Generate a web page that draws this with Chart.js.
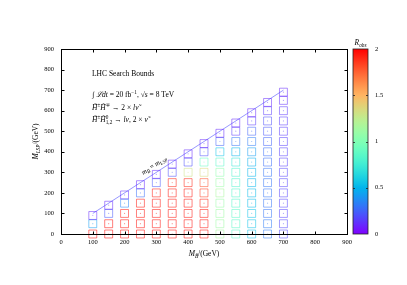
<!DOCTYPE html>
<html lang="en">
<head>
<meta charset="utf-8">
<title>LHC Search Bounds</title>
<script src="https://cdn.jsdelivr.net/npm/chart.js"></script>
<style>
  html, body { margin: 0; padding: 0; background: #fff; }
</style>
</head>
<body>
<canvas id="boundsChart" width="407" height="285"></canvas>
<script>
// bino mass of each scanned column (GeV)
const binoMass = [100, 150, 200, 250, 300, 350, 400, 450, 500, 550, 600, 650, 700];
// LSP masses scanned in each column (GeV)
const lspMass = [
  [0, 50, 90],
  [0, 50, 100, 140],
  [0, 50, 100, 150, 190],
  [0, 50, 100, 150, 200, 240],
  [0, 50, 100, 150, 200, 250, 290],
  [0, 50, 100, 150, 200, 250, 300, 340],
  [0, 50, 100, 150, 200, 250, 300, 350, 390],
  [0, 50, 100, 150, 200, 250, 300, 350, 400, 440],
  [0, 50, 100, 150, 200, 250, 300, 350, 400, 450, 490],
  [0, 50, 100, 150, 200, 250, 300, 350, 400, 450, 500, 540],
  [0, 50, 100, 150, 200, 250, 300, 350, 400, 450, 500, 550, 590],
  [0, 50, 100, 150, 200, 250, 300, 350, 400, 450, 500, 550, 600, 640],
  [0, 50, 100, 150, 200, 250, 300, 350, 400, 450, 500, 550, 600, 650, 690]
];
const rObs = [
  [1.98, 0.42, 0.1],
  [1.98, 1.97, 0.22, 0.1],
  [1.98, 1.97, 1.95, 0.35, 0.12],
  [1.98, 1.97, 1.96, 1.95, 0.28, 0.1],
  [1.98, 1.97, 1.96, 1.96, 1.94, 0.22, 0.1],
  [1.98, 1.97, 1.96, 1.96, 1.95, 1.93, 0.2, 0.1],
  [1.98, 1.97, 1.96, 1.96, 1.95, 1.92, 1.3, 0.2, 0.1],
  [1.97, 1.96, 1.95, 1.93, 1.85, 1.8, 1.35, 0.9, 0.2, 0.1],
  [1.15, 1.12, 1.12, 1.1, 1.15, 1.1, 1.05, 0.85, 0.55, 0.25, 0.1],
  [0.85, 0.85, 0.85, 0.82, 0.82, 0.8, 0.8, 0.72, 0.5, 0.3, 0.15, 0.1],
  [0.55, 0.55, 0.55, 0.52, 0.52, 0.5, 0.5, 0.48, 0.42, 0.32, 0.25, 0.15, 0.1],
  [0.32, 0.32, 0.3, 0.3, 0.3, 0.3, 0.3, 0.28, 0.28, 0.25, 0.22, 0.2, 0.15, 0.1],
  [0.18, 0.18, 0.17, 0.17, 0.17, 0.17, 0.17, 0.16, 0.16, 0.16, 0.15, 0.15, 0.14, 0.12, 0.1]
];
// m_B = m_LSP line
const diagX = [100, 700];
const diagY = [100, 700];
const rTicks = [0, 0.5, 1, 1.5, 2];

const SERIF = "'Liberation Serif', 'DejaVu Serif', serif";
Chart.defaults.font.family = SERIF;
Chart.defaults.font.size = 6.5;
Chart.defaults.color = '#000';

// gnuplot-like rainbow palette, t in [0,1]
function rainbow(t) {
  const r = Math.abs(2 * t - 0.5);
  const g = Math.sin(Math.PI * t);
  const b = Math.cos(Math.PI * t / 2);
  return [r, g, b].map(v => Math.round(Math.max(0, Math.min(1, v)) * 255));
}

const pts = [], edge = [], dot = [];
binoMass.forEach((mb, i) => {
  lspMass[i].forEach((ml, j) => {
    const c = rainbow(rObs[i][j] / 2).join(',');
    pts.push({ x: mb, y: ml });
    edge.push('rgba(' + c + ',0.52)');
    dot.push('rgba(' + c + ',0.45)');
  });
});

// draw a run of text pieces; flags: i italic, _ sub, ^ sup, k keep x
function rich(ctx, parts, x, y, size, align) {
  const fnt = (f, s) => (f.includes('i') ? 'italic ' : '') + s + 'px ' + SERIF;
  let w = 0;
  parts.forEach(([t, f]) => {
    const s = (f.includes('_') || f.includes('^')) ? size * 0.7 : size;
    ctx.font = fnt(f, s);
    if (!f.includes('k')) w += ctx.measureText(t).width;
  });
  let cx = align === 'center' ? x - w / 2 : x;
  ctx.textAlign = 'left';
  ctx.textBaseline = 'alphabetic';
  parts.forEach(([t, f]) => {
    const small = f.includes('_') || f.includes('^');
    const s = small ? size * 0.7 : size;
    ctx.font = fnt(f, s);
    let dy = 0;
    if (f.includes('_')) dy = size * 0.25;
    if (f.includes('^')) dy = -size * 0.38;
    ctx.fillText(t, cx, y + dy);
    if (!f.includes('k')) cx += ctx.measureText(t).width;
  });
}

const decor = {
  id: 'decor',
  afterDraw(chart) {
    const { ctx, chartArea: a, scales } = chart;
    const xs = scales.x, ys = scales.y, cb = scales.cb;
    ctx.save();
    // frame with inward ticks
    ctx.strokeStyle = '#000';
    ctx.lineWidth = 1;
    const L = Math.round(a.left) + 0.5, R = Math.round(a.right) + 0.5;
    const T = Math.round(a.top) + 0.5, B = Math.round(a.bottom) + 0.5;
    ctx.strokeRect(L, T, R - L, B - T);
    ctx.beginPath();
    xs.ticks.forEach(t => {
      if (t.value <= xs.min || t.value >= xs.max) return;
      const px = Math.round(xs.getPixelForValue(t.value)) + 0.5;
      ctx.moveTo(px, B); ctx.lineTo(px, B - 3);
      ctx.moveTo(px, T); ctx.lineTo(px, T + 3);
    });
    ys.ticks.forEach(t => {
      if (t.value <= ys.min || t.value >= ys.max) return;
      const py = Math.round(ys.getPixelForValue(t.value)) + 0.5;
      ctx.moveTo(L, py); ctx.lineTo(L + 3, py);
      ctx.moveTo(R, py); ctx.lineTo(R - 3, py);
    });
    ctx.stroke();

    // colour bar
    const bx0 = a.right + 6, bx1 = a.right + 21;
    const by0 = cb.getPixelForValue(cb.max), by1 = cb.getPixelForValue(cb.min);
    const grad = ctx.createLinearGradient(0, by1, 0, by0);
    for (let k = 0; k <= 40; k++) {
      const t = k / 40;
      grad.addColorStop(t, 'rgb(' + rainbow(t).join(',') + ')');
    }
    ctx.fillStyle = grad;
    ctx.fillRect(bx0, by0, bx1 - bx0, by1 - by0);
    ctx.lineWidth = 0.8;
    ctx.strokeStyle = '#222';
    ctx.strokeRect(bx0, by0, bx1 - bx0, by1 - by0);
    ctx.beginPath();
    rTicks.forEach(v => {
      if (v <= cb.min || v >= cb.max) return;
      const py = Math.round(cb.getPixelForValue(v)) + 0.5;
      ctx.moveTo(bx0, py); ctx.lineTo(bx0 + 2, py);
      ctx.moveTo(bx1, py); ctx.lineTo(bx1 - 2, py);
    });
    ctx.stroke();

    // texts
    ctx.fillStyle = '#000';
    rich(ctx, [['R', 'i'], ['obs', '_i']], (bx0 + bx1) / 2, by0 - 4, 7.5, 'center');
    rich(ctx, [['M', 'i'], ['B\u0303', '_i'], ['/(GeV)', '']], (a.left + a.right) / 2, a.bottom + 22, 7.5, 'center');
    ctx.save();
    ctx.translate(a.left - 23, (a.top + a.bottom) / 2);
    ctx.rotate(-Math.PI / 2);
    rich(ctx, [['M', 'i'], ['LSP', '_i'], ['/(GeV)', '']], 0, 0, 7.5, 'center');
    ctx.restore();

    const tx = a.left + 31;
    rich(ctx, [['LHC Search Bounds', '']], tx, a.top + 27, 7.5);
    rich(ctx, [['\u222B ', ''], ['\u2112dt', 'i'], [' = 20 fb', ''], ['\u22121', '^'], [', \u221A', ''], ['s', 'i'], [' = 8 TeV', '']], tx, a.top + 48, 7.5);
    rich(ctx, [['H\u0303', 'i'], ['\u00B1', '^'], ['H\u0303', 'i'], ['\u2213', '^'], [' \u2192 2 \u00D7 ', ''], ['l\u03BD\u0303', 'i']], tx, a.top + 61, 7.5);
    rich(ctx, [['H\u0303', 'i'], ['\u00B1', '^'], ['H\u0303', 'i'], ['0', '^k'], ['1,2', '_'], [' \u2192 ', ''], ['l\u03BD', 'i'], [', 2 \u00D7 ', ''], ['\u03BD\u0303', 'i']], tx, a.top + 73, 7.5);

    // label along the diagonal
    const p0x = xs.getPixelForValue(diagX[0]), p0y = ys.getPixelForValue(diagY[0]);
    const p1x = xs.getPixelForValue(diagX[1]), p1y = ys.getPixelForValue(diagY[1]);
    const ang = Math.atan2(p1y - p0y, p1x - p0x);
    const mx = xs.getPixelForValue(305), my = ys.getPixelForValue(305);
    ctx.save();
    ctx.translate(mx, my);
    ctx.rotate(ang);
    rich(ctx, [['m', 'i'], ['B\u0303', '_i'], [' = ', ''], ['m', 'i'], ['LSP', '_i']], 0, -5, 7, 'center');
    ctx.restore();
    ctx.restore();
  }
};

new Chart(document.getElementById('boundsChart'), {
  type: 'scatter',
  data: {
    datasets: [
      {
        data: pts,
        pointStyle: 'rect',
        pointRadius: 5.6,
        pointHoverRadius: 5.6,
        pointBorderWidth: 1,
        pointBorderColor: edge,
        pointBackgroundColor: 'rgba(0,0,0,0)',
        clip: false
      },
      {
        data: pts,
        pointStyle: 'circle',
        pointRadius: 0.6,
        pointBorderWidth: 0,
        pointBackgroundColor: dot,
        clip: false
      },
      {
        type: 'line',
        data: diagX.map((v, k) => ({ x: v, y: diagY[k] })),
        showLine: true,
        borderColor: 'rgba(110,110,255,0.9)',
        borderWidth: 0.8,
        pointRadius: 0
      }
    ]
  },
  options: {
    responsive: false,
    animation: false,
    devicePixelRatio: 1,
    layout: { padding: { top: 49, left: 0, right: 0, bottom: 0 } },
    plugins: { legend: { display: false }, tooltip: { enabled: false } },
    scales: {
      x: {
        type: 'linear', min: 0, max: 900,
        ticks: { stepSize: 100, padding: 4, maxRotation: 0 },
        grid: { display: false, drawTicks: false },
        border: { display: false },
        afterFit: s => { s.height = 51; }
      },
      y: {
        type: 'linear', min: 0, max: 900,
        ticks: { stepSize: 100, padding: 7 },
        grid: { display: false, drawTicks: false },
        border: { display: false },
        afterFit: s => { s.width = 61; }
      },
      cb: {
        type: 'linear', position: 'right', min: 0, max: 2,
        ticks: { stepSize: 0.5, padding: 28, callback: v => String(v) },
        grid: { display: false, drawTicks: false },
        border: { display: false },
        afterFit: s => { s.width = 60; }
      }
    }
  },
  plugins: [decor]
});
</script>
</body>
</html>
